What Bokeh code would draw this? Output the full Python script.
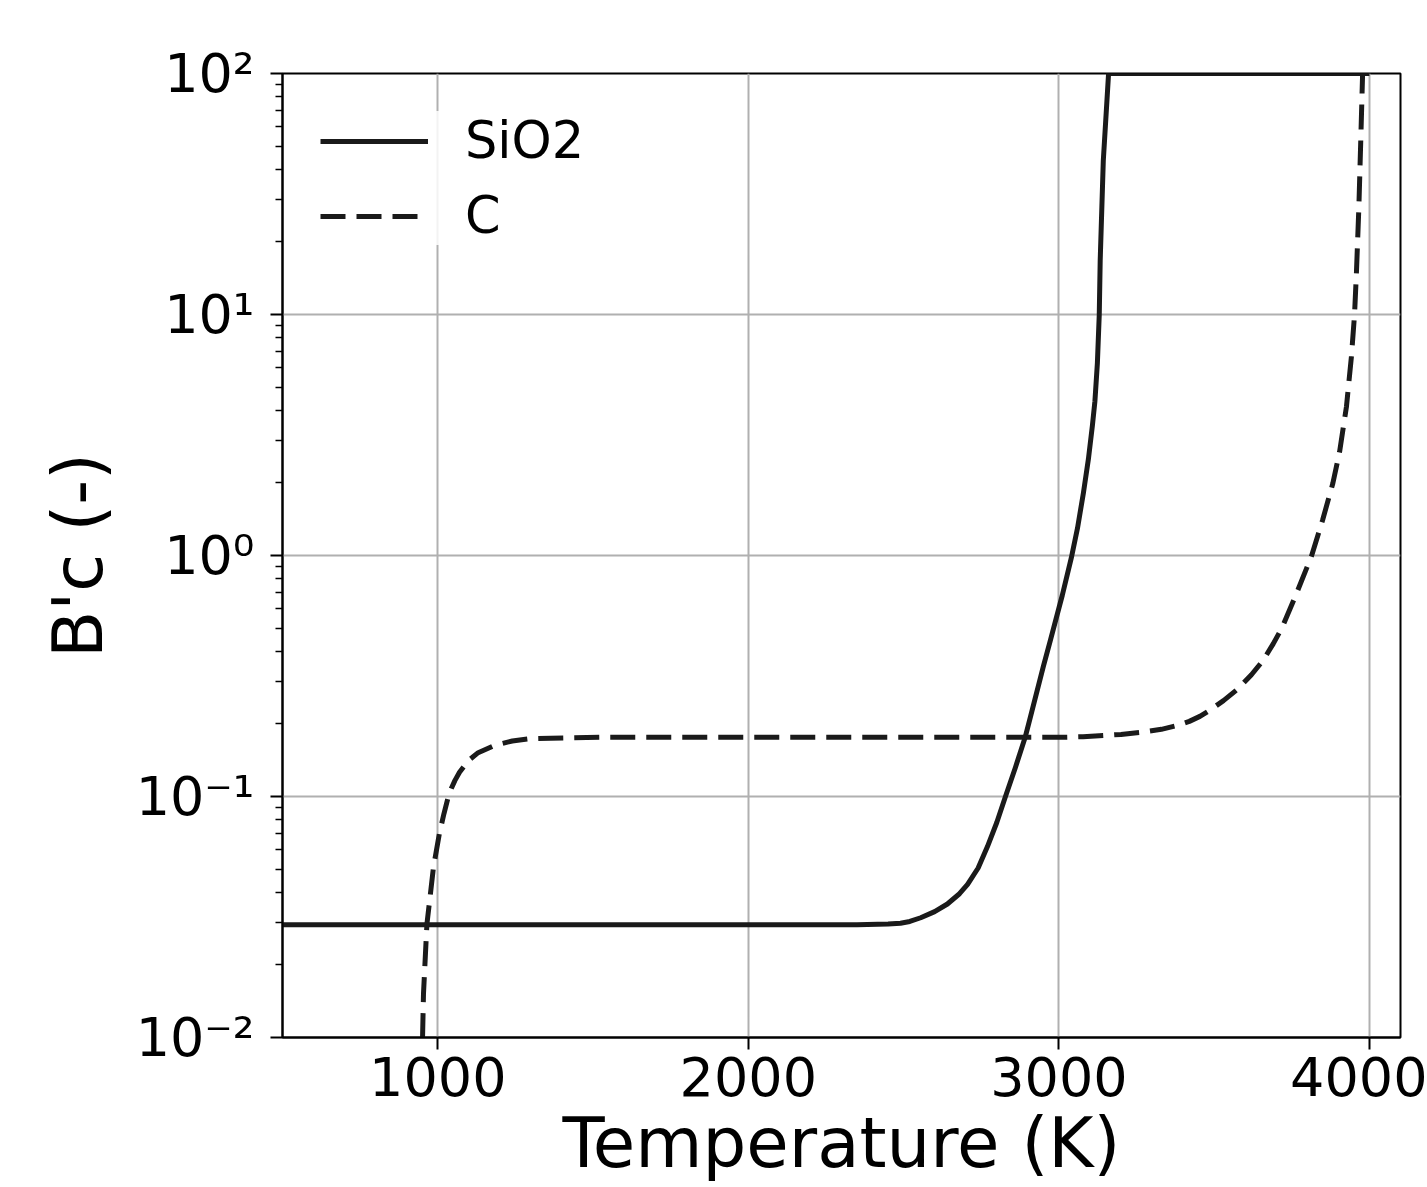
from bokeh.plotting import figure
from bokeh.models import FixedTicker, Legend, LegendItem, ColumnDataSource
from bokeh.embed import file_html
from bokeh.resources import INLINE

# ---- data ----
sio2_T = [500, 1000, 1500, 2000, 2350, 2450, 2490, 2520, 2555, 2600, 2641, 2680,
          2706, 2740, 2770, 2800, 2828, 2860, 2892, 2908, 2950, 2973, 3011, 3040,
          3060, 3079, 3095, 3108, 3116, 3124, 3130, 3133, 3143, 3160, 3500, 4000]
sio2_B = [0.0294, 0.0294, 0.0294, 0.0294, 0.0294, 0.0296, 0.0298, 0.0303, 0.0314,
          0.0333, 0.0358, 0.0395, 0.0432, 0.0505, 0.062, 0.078, 0.1, 0.132,
          0.177, 0.213, 0.347, 0.447, 0.684, 0.977, 1.30, 1.82, 2.51, 3.47, 4.37,
          6.3, 10.0, 16.7, 43.5, 100.0, 100.0, 100.0]

c_T = [940, 951, 954, 965, 986, 1005, 1020, 1034, 1045, 1055, 1070, 1099, 1130,
       1183, 1240, 1302, 1527, 2000, 2500, 3000, 3078, 3200, 3271, 3330, 3381,
       3420, 3454, 3486, 3530, 3577, 3620, 3657, 3690, 3718, 3765, 3814, 3849,
       3882, 3904, 3926, 3942, 3952, 3958, 3966, 3972, 3978, 4000]
c_B = [0.005, 0.01, 0.0152, 0.0295, 0.0507, 0.070, 0.085, 0.1, 0.109, 0.1164,
       0.126, 0.141, 0.152, 0.163, 0.170, 0.174, 0.176, 0.176, 0.176, 0.176,
       0.177, 0.181, 0.185, 0.19, 0.197, 0.205, 0.215, 0.228, 0.25, 0.28, 0.32,
       0.366, 0.43, 0.5, 0.695, 1.0, 1.40, 1.99, 2.7, 4.15, 6.7, 10.0, 14.8,
       28.0, 52.5, 100.0, 100.0]

series_names = ["SiO2", "C"]
x_ticks = [1000, 2000, 3000, 4000]
x_tick_labels = ["1000", "2000", "3000", "4000"]
y_ticks = [0.01, 0.1, 1, 10, 100]
y_tick_labels = ["10\u207b\u00b2", "10\u207b\u00b9", "10\u2070", "10\u00b9", "10\u00b2"]
x_label = "Temperature (K)"
y_label = "B'c (-)"

FONT = "DejaVu Sans"
LINE_COLOR = "#1a1a1a"

p = figure(width=1427, height=1187, x_range=(500, 4100), y_range=(0.01, 100),
           y_axis_type="log", output_backend="svg", toolbar_location=None,
           min_border_left=282, min_border_right=27, min_border_top=73,
           min_border_bottom=150)
p.background_fill_color = "white"
p.border_fill_color = "white"
p.outline_line_color = "black"
p.outline_line_width = 2

src_s = ColumnDataSource(dict(x=sio2_T, y=sio2_B))
src_c = ColumnDataSource(dict(x=c_T, y=c_B))
r1 = p.line("x", "y", source=src_s, line_color=LINE_COLOR, line_width=5,
            line_join="round")
r2 = p.line("x", "y", source=src_c, line_color=LINE_COLOR, line_width=5,
            line_dash="25 11", line_join="round")

# axes
minor = [k * 10.0 ** e for e in range(-2, 2) for k in range(2, 10)]
p.yaxis.ticker = FixedTicker(ticks=y_ticks, minor_ticks=minor)
p.yaxis.major_label_overrides = dict(zip(y_ticks, y_tick_labels))
p.xaxis.ticker = FixedTicker(ticks=x_ticks, minor_ticks=[])
p.xaxis.major_label_overrides = dict(zip(x_ticks, x_tick_labels))

for ax in (p.xaxis[0], p.yaxis[0]):
    ax.axis_line_color = "black"
    ax.axis_line_width = 2
    ax.major_tick_line_color = "black"
    ax.major_tick_line_width = 2
    ax.major_tick_in = 0
    ax.major_tick_out = 12
    ax.minor_tick_line_color = "black"
    ax.minor_tick_line_width = 1.5
    ax.minor_tick_in = 0
    ax.minor_tick_out = 7
    ax.major_label_text_font = FONT
    ax.major_label_text_font_size = "54px"
    ax.major_label_text_color = "black"
    ax.axis_label_text_font = FONT
    ax.axis_label_text_font_size = "69px"
    ax.axis_label_text_font_style = "normal"
    ax.axis_label_text_color = "black"

p.xaxis.axis_label = x_label
p.yaxis.axis_label = y_label
p.xaxis.major_label_standoff = 7
p.xaxis.axis_label_standoff = 4
p.yaxis.major_label_standoff = 16
p.yaxis.axis_label_standoff = 15

p.xgrid.grid_line_color = "#b0b0b0"
p.xgrid.grid_line_width = 2
p.ygrid.grid_line_color = "#b0b0b0"
p.ygrid.grid_line_width = 2

legend = Legend(items=[LegendItem(label=series_names[0], renderers=[r1]),
                       LegendItem(label=series_names[1], renderers=[r2])],
                location="top_left", margin=38, padding=20, spacing=16,
                glyph_width=108, glyph_height=50, label_height=50,
                label_standoff=37,
                label_text_font=FONT, label_text_font_size="51px",
                label_text_color="black",
                background_fill_color="white", background_fill_alpha=0.85,
                border_line_color=None)
p.add_layout(legend)

open("out.html", "w").write(file_html(p, INLINE))
